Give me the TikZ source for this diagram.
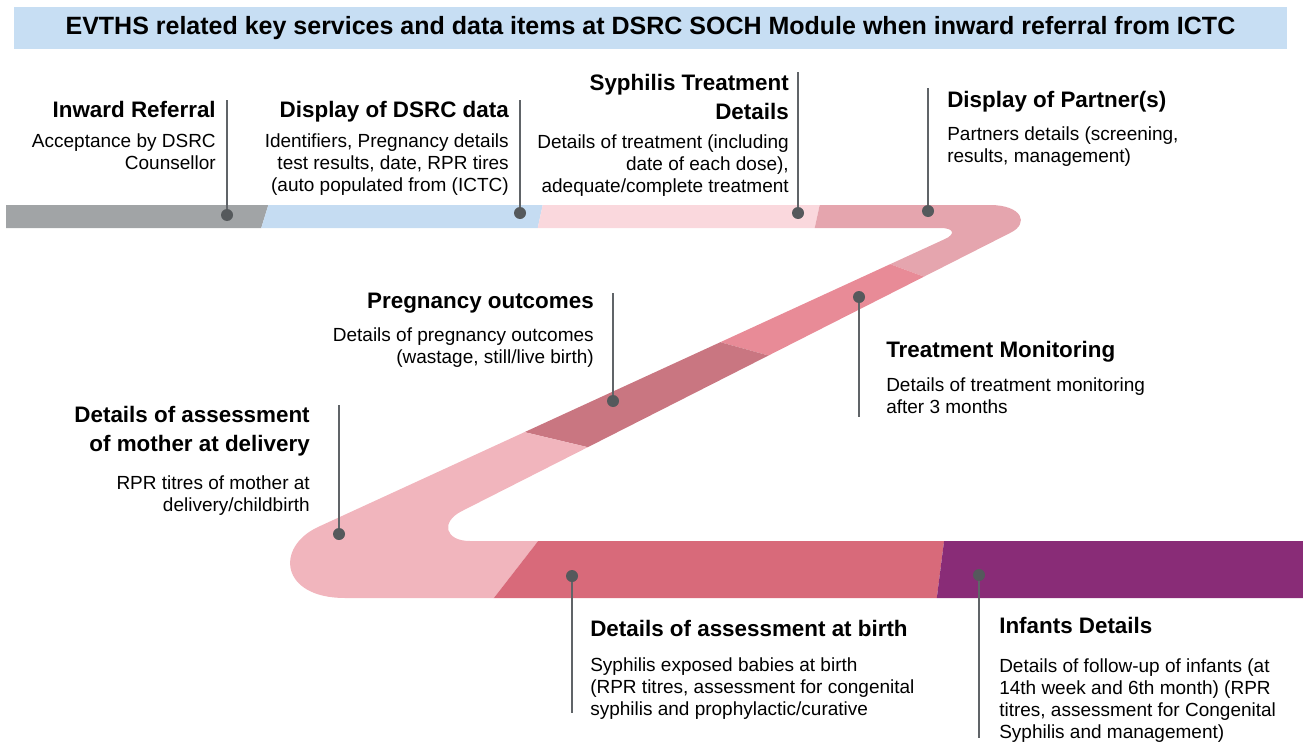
\documentclass[tikz,border=0pt]{standalone}
\usepackage{fontspec}
\setmainfont{Liberation Sans}
\usepackage{xcolor}
\usepackage{tikz}
\definecolor{banner}{HTML}{C7DEF3}
\definecolor{slate}{HTML}{A1A4A6}
\definecolor{sky}{HTML}{C5DCF2}
\definecolor{blush}{HTML}{FAD8DD}
\definecolor{rose}{HTML}{E5A5AE}
\definecolor{coral}{HTML}{E88B97}
\definecolor{mauve}{HTML}{C97681}
\definecolor{petal}{HTML}{F1B5BD}
\definecolor{berry}{HTML}{D86A7A}
\definecolor{plum}{HTML}{892C77}
\definecolor{pin}{HTML}{55595C}
\definecolor{stemgray}{HTML}{606468}
\tikzset{
  dot/.style={circle, fill=pin, inner sep=0pt, minimum size=9pt},
  stem/.style={line width=1.2pt, draw=stemgray},
  head/.style={inner sep=0pt, font=\fontsize{16.8pt}{22pt}\selectfont\bfseries},
  body/.style={inner sep=0pt, font=\fontsize{14.25pt}{16.5pt}\selectfont},
  ttl/.style={fill=banner, minimum width=954.75pt, minimum height=31.5pt,
    inner sep=0pt, font=\fontsize{18.75pt}{22pt}\selectfont\bfseries}
}

\begin{document}
\begin{tikzpicture}[x=0.75pt, y=-0.75pt]
  \useasboundingbox (0,0) rectangle (1303,742);

  % title
  \node[ttl] (title) at (650.5,28)
    {EVTHS related key services and data items at DSRC SOCH Module when inward referral from ICTC};

  % ribbon
  \begin{scope}
    \clip (6,205) -- (990,205) .. controls (1022,205) and (1030,223.5) .. (1010,233)
      -- (462,511) .. controls (440,522) and (445,541) .. (470,541)
      -- (1303,541) -- (1303,598) -- (345,598)
      .. controls (280,598) and (275,547) .. (318,527)
      -- (945,239) .. controls (955,234.5) and (955,228) .. (940,228)
      -- (6,228) -- cycle;
    \fill[slate] (0,190) -- (273,190) -- (256,245) -- (0,245) -- cycle;
    \fill[sky] (273,190) -- (546,190) -- (534,245) -- (256,245) -- cycle;
    \fill[blush] (546,190) -- (823,190) -- (811,245) -- (534,245) -- cycle;
    \fill[rose] (823,190) -- (1040,190) -- (1040,265) -- (952,287) -- (868,256) -- (811,245) -- cycle;
    \fill[coral] (868,256) -- (952,287) -- (792,362) -- (698,336) -- cycle;
    \fill[mauve] (698,336) -- (792,362) -- (608,452) -- (503,427) -- cycle;
    \fill[petal] (503,427) -- (608,452) -- (600,482) -- (556,518) -- (483,612)
      -- (270,612) -- (270,410) -- cycle;
    \fill[berry] (556,518) -- (946,526) -- (935,612) -- (483,612) -- cycle;
    \fill[plum] (946,526) -- (1310,526) -- (1310,612) -- (935,612) -- cycle;
  \end{scope}

  % pins and stems
  \foreach \n/\px/\py/\ey in {ref/227/215/100, dsrc/520/213/100, syph/798/213/72,
      part/928/211/88, mon/859/297/417, preg/613/401/293, moth/339/534/405,
      birth/572/576/713, inf/979/575/738}{
    \node[dot] (\n-dot) at (\px,\py) {};
    \coordinate (\n-end) at (\px,\ey);
    \draw[stem] (\n-dot) -- (\n-end);
  }

  % labels
  \node[head, anchor=north east] (ref-head) at (216,101) {Inward Referral};
  \node[body, anchor=north east, align=right] (ref-body) at (216,133)
    {Acceptance by DSRC\\Counsellor};

  \node[head, anchor=north east] (dsrc-head) at (509,101) {Display of DSRC data};
  \node[body, anchor=north east, align=right] (dsrc-body) at (509,133)
    {Identifiers, Pregnancy details\\test results, date, RPR tires\\(auto populated from (ICTC)};

  \node[head, anchor=north east, align=right] (syph-head) at (789,74)
    {Syphilis Treatment\\Details};
  \node[body, anchor=north east, align=right] (syph-body) at (789,134)
    {Details of treatment (including\\date of each dose),\\adequate/complete treatment};

  \node[head, anchor=north west] (part-head) at (947,91) {Display of Partner(s)};
  \node[body, anchor=north west, align=left] (part-body) at (947,126)
    {Partners details (screening,\\results, management)};

  \node[head, anchor=north west] (mon-head) at (886,341) {Treatment Monitoring};
  \node[body, anchor=north west, align=left] (mon-body) at (886,377)
    {Details of treatment monitoring\\after 3 months};

  \node[head, anchor=north east] (preg-head) at (594,293) {Pregnancy outcomes};
  \node[body, anchor=north east, align=right] (preg-body) at (594,327)
    {Details of pregnancy outcomes\\(wastage, still/live birth)};

  \node[head, anchor=north east, align=right] (moth-head) at (310,406)
    {Details of assessment\\of mother at delivery};
  \node[body, anchor=north east, align=right] (moth-body) at (310,475)
    {RPR titres of mother at\\delivery/childbirth};

  \node[head, anchor=north west] (birth-head) at (590,620) {Details of assessment at birth};
  \node[body, anchor=north west, align=left] (birth-body) at (590,657)
    {Syphilis exposed babies at birth\\(RPR titres, assessment for congenital\\syphilis and prophylactic/curative};

  \node[head, anchor=north west] (inf-head) at (999,617) {Infants Details};
  \node[body, anchor=north west, align=left] (inf-body) at (999,658)
    {Details of follow-up of infants (at\\14th week and 6th month) (RPR\\titres, assessment for Congenital\\Syphilis and management)};
\end{tikzpicture}
\end{document}
